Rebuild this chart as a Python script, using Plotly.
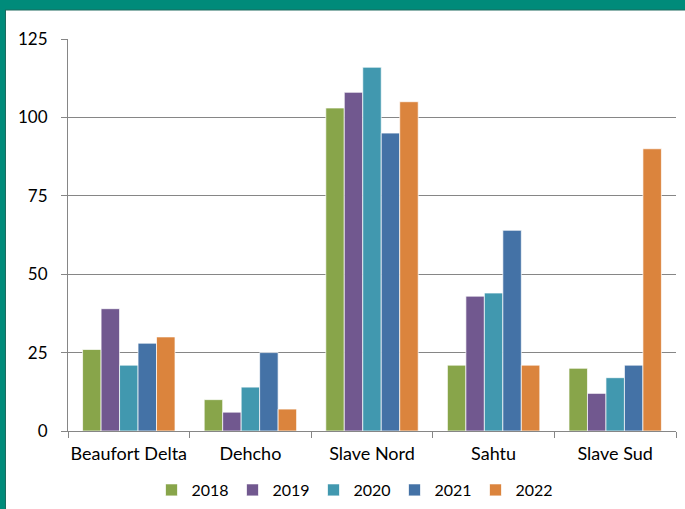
import plotly.graph_objects as go

regions = ["Beaufort Delta", "Dehcho", "Slave Nord", "Sahtu", "Slave Sud"]
years = ["2018", "2019", "2020", "2021", "2022"]
v2018 = [26, 10, 103, 21, 20]
v2019 = [39, 6, 108, 43, 12]
v2020 = [21, 14, 116, 44, 17]
v2021 = [28, 25, 95, 64, 21]
v2022 = [30, 7, 105, 21, 90]
series = [v2018, v2019, v2020, v2021, v2022]
colors = ["#88A54A", "#71588F", "#4198AF", "#4472A6", "#DB843D"]
y_ticks = [0, 25, 50, 75, 100, 125]

fig = go.Figure()
for name, vals, col in zip(years, series, colors):
    fig.add_trace(go.Bar(
        x=regions, y=vals, name=name,
        marker=dict(color=col, line=dict(color="rgba(255,255,255,0.7)", width=1)),
    ))

L, R, T, B = 68, 9, 39, 78
W, H = 685, 509
pw, ph = W - L - R, H - T - B
def px_x(p): return (p - L) / pw
def px_y(p): return (H - B - p) / ph

teal = "#008B7A"
fig.add_shape(type="rect", xref="paper", yref="paper",
              x0=px_x(-2), x1=px_x(W + 2), y0=px_y(10), y1=px_y(-2),
              fillcolor=teal, line_width=0, layer="above")
fig.add_shape(type="line", xref="paper", yref="paper",
              x0=px_x(5), x1=px_x(W + 2), y0=px_y(10), y1=px_y(10),
              line=dict(color="#1d6b5f", width=1), layer="above")
fig.add_shape(type="rect", xref="paper", yref="paper",
              x0=px_x(-2), x1=px_x(5), y0=px_y(H + 2), y1=px_y(-2),
              fillcolor=teal, line_width=0, layer="above")
fig.add_shape(type="line", xref="paper", yref="paper",
              x0=px_x(5.5), x1=px_x(5.5), y0=px_y(H + 2), y1=px_y(10),
              line=dict(color="#1d6b5f", width=1), layer="above")

fig.update_layout(
    width=W, height=H,
    margin=dict(l=L, r=R, t=T, b=B, autoexpand=False),
    paper_bgcolor="white", plot_bgcolor="white",
    barmode="group", bargap=0.24, bargroupgap=0,
    font=dict(family="Lato, Open Sans, sans-serif", size=17, color="#000000"),
    showlegend=True,
    legend=dict(orientation="h", x=(354 - L) / pw, xanchor="center",
                yref="container", y=(H - 490) / H, yanchor="middle",
                font=dict(size=16), itemwidth=30, entrywidth=36,
                traceorder="normal"),
    xaxis=dict(showgrid=False, showline=True, linecolor="#868686", linewidth=1,
               ticks="outside", tickson="boundaries", ticklen=6, tickcolor="#868686",
               tickfont=dict(size=18), tickangle=0, ticklabelstandoff=6,
               fixedrange=True),
    yaxis=dict(range=[0, 125], tickvals=y_ticks, showgrid=True, gridcolor="#868686",
               gridwidth=1, showline=True, linecolor="#868686", ticks="outside",
               ticklen=6, tickcolor="#868686", zeroline=False,
               tickfont=dict(size=17), ticklabelstandoff=10, fixedrange=True),
)

fig.write_html("out.html", config={"displayModeBar": False},
               post_script="document.body.style.margin='0';document.body.style.overflow='hidden';")
